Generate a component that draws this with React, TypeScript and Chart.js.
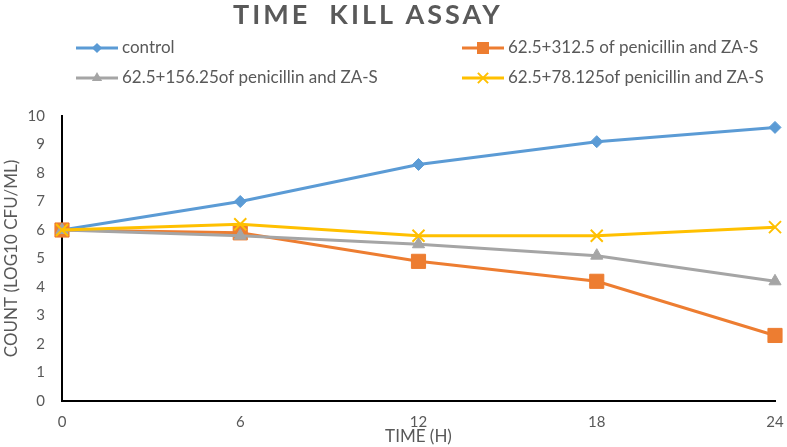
import React, { useEffect, useRef } from "react";
import { Chart, registerables } from "chart.js";

Chart.register(...registerables);

// ---- data ----
const times = [0, 6, 12, 18, 24];
const control = [6.0, 7.0, 8.3, 9.1, 9.6];
const dose312 = [6.0, 5.9, 4.9, 4.2, 2.3];
const dose156 = [6.0, 5.8, 5.5, 5.1, 4.2];
const dose78 = [6.0, 6.2, 5.8, 5.8, 6.1];
const seriesLabels = [
  "control",
  "62.5+312.5 of penicillin and ZA-S",
  "62.5+156.25of penicillin and ZA-S",
  "62.5+78.125of penicillin and ZA-S",
];
const titleText = "TIME  KILL ASSAY";
const xTitle = "TIME (H)";
const yTitle = "COUNT (LOG10 CFU/ML)";

const FONT = "Lato, 'Open Sans', sans-serif";
const TEXT = "#595959";
const colors = ["#5B9BD5", "#ED7D31", "#A5A5A5", "#FFC000"];
const styles = ["rectRot", "rect", "triangle", "crossRot"];
const radii = [6, 10, 7, 8.5];

function drawMarker(ctx: CanvasRenderingContext2D, style: string, x: number, y: number, r: number, color: string) {
  ctx.save();
  ctx.fillStyle = color;
  ctx.strokeStyle = color;
  ctx.lineWidth = style === "crossRot" ? 2 : 1;
  ctx.beginPath();
  if (style === "rectRot") {
    ctx.moveTo(x, y - r);
    ctx.lineTo(x + r, y);
    ctx.lineTo(x, y + r);
    ctx.lineTo(x - r, y);
    ctx.closePath();
    ctx.fill();
  } else if (style === "rect") {
    const s = r * Math.SQRT1_2;
    ctx.rect(x - s, y - s, 2 * s, 2 * s);
    ctx.fill();
  } else if (style === "triangle") {
    const h = (r * 3) / Math.sqrt(3);
    ctx.moveTo(x - h / 2, y + r / 2);
    ctx.lineTo(x + h / 2, y + r / 2);
    ctx.lineTo(x, y - r);
    ctx.closePath();
    ctx.fill();
  } else {
    const o = r * Math.SQRT1_2;
    ctx.moveTo(x - o, y - o);
    ctx.lineTo(x + o, y + o);
    ctx.moveTo(x + o, y - o);
    ctx.lineTo(x - o, y + o);
    ctx.stroke();
  }
  ctx.restore();
}

const headerPlugin = {
  id: "header",
  afterDraw(chart: any) {
    const ctx: CanvasRenderingContext2D = chart.ctx;
    ctx.save();
    ctx.font = `bold 27px ${FONT}`;
    (ctx as any).letterSpacing = "3px";
    ctx.fillStyle = TEXT;
    ctx.textAlign = "left";
    ctx.textBaseline = "middle";
    ctx.fillText(titleText, 233, 15);
    (ctx as any).letterSpacing = "0px";

    chart.data.datasets.forEach((ds: any, i: number) => {
      const col = i % 2;
      const row = Math.floor(i / 2);
      const x0 = col === 0 ? 76 : 462;
      const y = row === 0 ? 48 : 78;
      ctx.strokeStyle = ds.borderColor;
      ctx.lineWidth = 3;
      ctx.beginPath();
      ctx.moveTo(x0, y);
      ctx.lineTo(x0 + 42, y);
      ctx.stroke();
      drawMarker(ctx, styles[i], x0 + 21, y, radii[i] * 0.85, ds.borderColor);
      ctx.font = `17px ${FONT}`;
      ctx.fillStyle = TEXT;
      ctx.textAlign = "left";
      ctx.textBaseline = "middle";
      ctx.fillText(ds.label, x0 + 46, y);
    });
    ctx.restore();
  },
};

export default function App() {
  const ref = useRef<HTMLCanvasElement>(null);
  useEffect(() => {
    document.body.style.margin = "0";
    const series = [control, dose312, dose156, dose78];
    const chart = new Chart(ref.current!, {
      type: "line",
      data: {
        datasets: series.map((vals, i) => ({
          label: seriesLabels[i],
          data: vals.map((v, j) => ({ x: times[j], y: v })),
          borderColor: colors[i],
          backgroundColor: colors[i],
          borderWidth: 3,
          pointStyle: styles[i] as any,
          pointRadius: radii[i],
          pointBorderWidth: i === 3 ? 2 : 1,
          pointBorderColor: colors[i],
          pointBackgroundColor: colors[i],
          tension: 0,
          clip: false as any,
          order: 4 - i,
        })),
      },
      options: {
        animation: false,
        responsive: true,
        maintainAspectRatio: false,
        layout: { padding: { top: 116, right: 12, left: 0, bottom: 0 } },
        plugins: { legend: { display: false }, title: { display: false }, tooltip: { enabled: false } },
        scales: {
          x: {
            type: "linear",
            min: 0,
            max: 24,
            afterFit: (s: any) => { s.height = 46; s.paddingRight = 0; s.paddingLeft = 0; },
            afterBuildTicks: (s: any) => { s.ticks = times.map((t) => ({ value: t })); },
            grid: { display: false, drawTicks: false },
            border: { display: true, color: "#000", width: 2 },
            ticks: { color: TEXT, font: { family: FONT, size: 15 }, padding: 12, maxRotation: 0 },
            title: { display: true, text: xTitle, color: TEXT, font: { family: FONT, size: 17 }, padding: { top: 0, bottom: 0 } },
          },
          y: {
            min: 0,
            max: 10,
            afterFit: (s: any) => { s.width = 62; s.paddingTop = 0; s.paddingBottom = 0; },
            grid: { display: false, drawTicks: false },
            border: { display: true, color: "#000", width: 2 },
            ticks: { stepSize: 1, color: TEXT, font: { family: FONT, size: 15 }, padding: 17 },
            title: { display: true, text: yTitle, color: TEXT, font: { family: FONT, size: 17 }, padding: { top: 1, bottom: 0 } },
          },
        },
      },
      plugins: [headerPlugin],
    });
    return () => chart.destroy();
  }, []);
  return (
    <div style={{ width: 787, height: 447, position: "relative", background: "#fff" }}>
      <canvas ref={ref} />
    </div>
  );
}
